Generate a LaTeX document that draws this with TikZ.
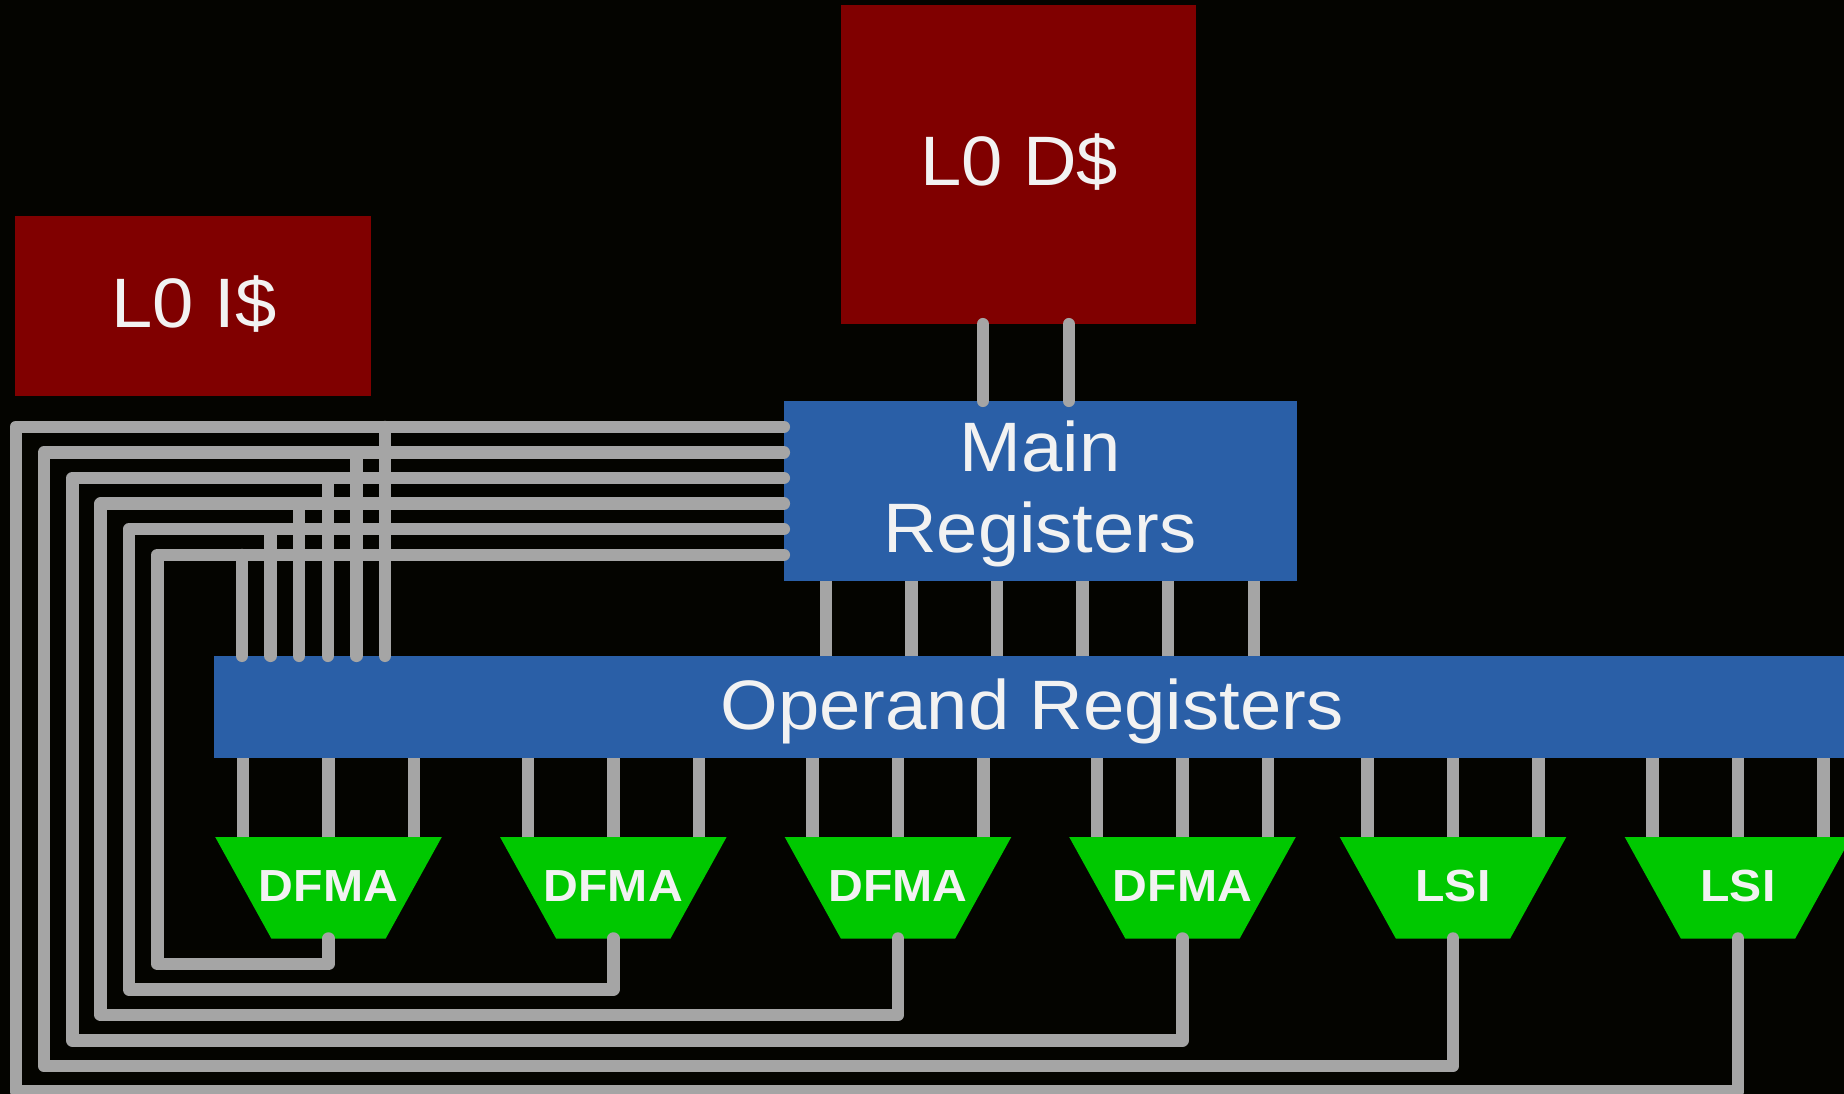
\documentclass[tikz,border=0pt]{standalone}
\usepackage{fontspec}
\setmainfont{Liberation Sans}
\usepackage{graphicx}
\definecolor{bgc}{RGB}{4,4,0}
\definecolor{cachered}{RGB}{128,0,0}
\definecolor{regblue}{RGB}{42,95,167}
\definecolor{unitgreen}{RGB}{0,200,0}
\definecolor{wiregray}{RGB}{165,165,165}
\definecolor{txt}{RGB}{242,242,242}
\begin{document}
\begin{tikzpicture}[x=1pt,y=-1pt,
  box/.style={rectangle, inner sep=0pt, draw=none},
  cachebox/.style={box, fill=cachered},
  regbox/.style={box, fill=regblue},
  biglbl/.style={text=txt, inner sep=0pt, font=\fontsize{70}{81}\selectfont},
  unitlbl/.style={text=txt, inner sep=0pt, font=\bfseries\fontsize{45}{54}\selectfont},
  wire/.style={draw=wiregray, line width=12.5pt, line cap=round, line join=round},
  stub/.style={draw=wiregray, line width=12.5pt, line cap=butt}]
\useasboundingbox (0,0) rectangle (1844,1094);
\clip (0,0) rectangle (1844,1094);
\fill[bgc] (0,0) rectangle (1844,1094);

% boxes
\node[cachebox, minimum width=356pt, minimum height=180pt] (icache) at (193,306) {};
\node[cachebox, minimum width=355pt, minimum height=319pt] (dcache) at (1018.5,164.5) {};
\node[regbox, minimum width=513pt, minimum height=180pt] (main) at (1040.5,491) {};
\node[regbox, minimum width=1636pt, minimum height=102pt] (op) at (1032,707) {};

% labels
\node[biglbl, anchor=base] (icachelbl) at (194,327) {\scalebox{1.06}[1]{L0 I\$}};
\node[biglbl, anchor=base] (dcachelbl) at (1019,186) {\scalebox{1.06}[1]{L0 D\$}};
\node[biglbl, align=center] (mainlbl) at (1040,493.4) {\scalebox{1.06}[1]{Main}\\\scalebox{1.06}[1]{Registers}};
\node[biglbl, anchor=base] (oplbl) at (1032,729) {\scalebox{1.06}[1]{Operand Registers}};

% L0 D$ -> Main registers
\path (dcache.south west) ++(142,0) coordinate (d1) ++(86,0) coordinate (d2);
\draw[wire] (d1) -- (d1 |- main.north);
\draw[wire] (d2) -- (d2 |- main.north);

% Main registers -> Operand registers
\foreach \i in {0,...,5}{
  \path (main.south west) ++(42+85.6*\i,0) coordinate (m\i);
  \draw[stub] (m\i) -- (m\i |- op.north);
}

% functional units
\foreach \k/\x/\t in {0/328.5/DFMA,1/613.3/DFMA,2/898/DFMA,3/1182.5/DFMA,4/1453/LSI,5/1738/LSI}{
  \foreach \d [count=\j] in {-85.5,0,85.5}{
    \coordinate (uin\k\j) at (\x+\d,837);
    \draw[stub] (uin\k\j |- op.south) -- (uin\k\j);
  }
  \fill[unitgreen] (\x-113.3,837) -- (\x+113.3,837) -- (\x+57.2,938.5) -- (\x-57.2,938.5) -- cycle;
  \node[unitlbl, anchor=base] (u\k) at (\x,901.7) {\scalebox{1.07}[1]{\t}};
  \coordinate (uout\k) at (\x,938.5);
}

% result buses looping back
\foreach \k in {0,...,5}{
  \pgfmathsetmacro{\yb}{964+25.5*\k}
  \pgfmathsetmacro{\xl}{157.4-28.33*\k}
  \pgfmathsetmacro{\yh}{555-25.6*\k}
  \pgfmathsetmacro{\xs}{242+28.6*\k}
  \pgfmathsetmacro{\dy}{\yh-401}
  \path (main.north west) ++(0,\dy) coordinate (h\k);
  \coordinate (s\k) at (\xs,\yh);
  \draw[wire] (uout\k) |- (\xl,\yb) |- (h\k);
  \draw[wire] (s\k) -- (s\k |- op.north);
}
\end{tikzpicture}
\end{document}
